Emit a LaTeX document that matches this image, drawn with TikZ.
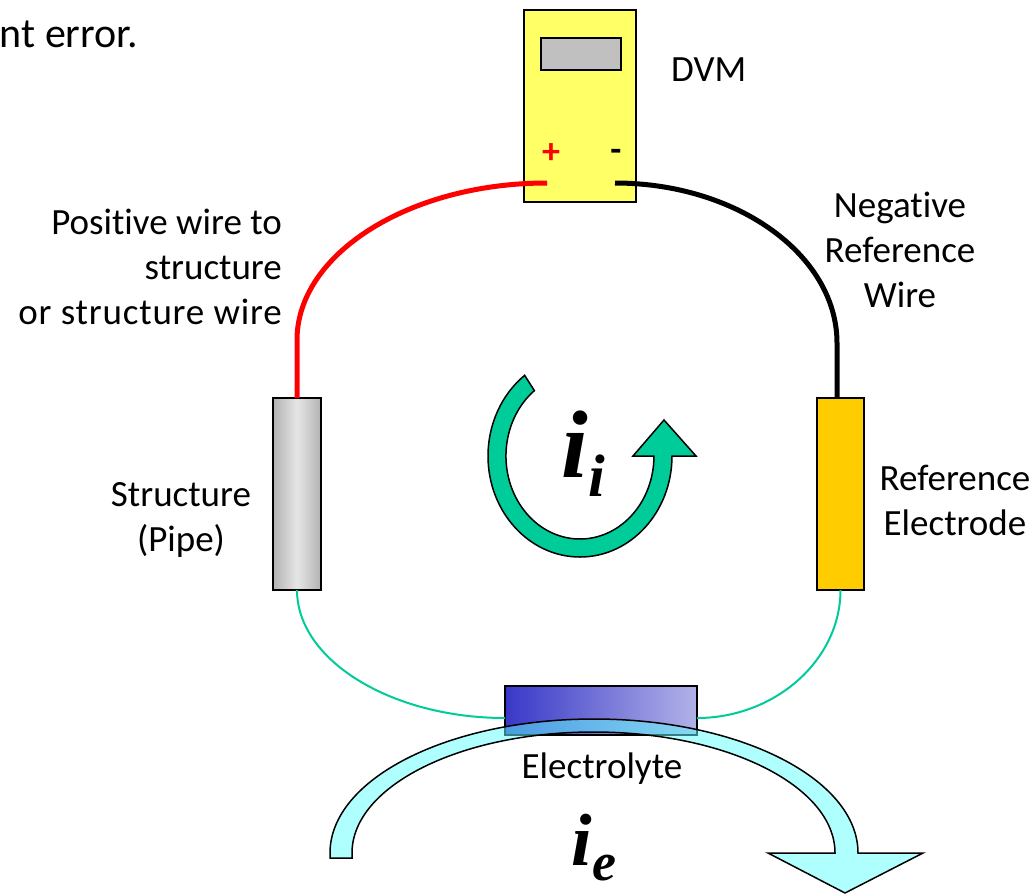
\documentclass[tikz,border=0pt]{standalone}
\usepackage{fontspec}
\setmainfont{Carlito}[Ligatures=NoCommon]
\newfontfamily\currentfont{Liberation Serif}
\usepackage{xcolor}
\definecolor{meter}{RGB}{255,255,102}
\definecolor{screen}{RGB}{192,192,192}
\definecolor{loop}{RGB}{0,204,153}
\definecolor{electrode}{RGB}{255,204,0}
\definecolor{earth}{RGB}{95,255,255}
\definecolor{elecdark}{RGB}{56,56,200}
\definecolor{eleclight}{RGB}{178,178,232}
\usepackage{tikz}
\usetikzlibrary{positioning}
\tikzset{part/.style={draw=black,line width=1.5pt,inner sep=0pt,outer sep=0pt},
  wire/.style={line width=5pt},
  thinwire/.style={draw=loop,line width=2pt}}
\newcommand{\bigsub}[5]{\currentfont\bfseries\itshape{\fontsize{#1}{#1}\selectfont #2}\raisebox{#5}{\fontsize{#3}{#3}\selectfont #4}}
\begin{document}
\begin{tikzpicture}[x=1pt,y=-1pt,every node/.style={font=\fontsize{37}{45}\selectfont,inner sep=0pt}]
\useasboundingbox (0,0) rectangle (1036,895);
\node (err) [anchor=base east,font=\fontsize{42}{45}\selectfont] at (138,47) {nt error.};
\node (dvm) [part,fill=meter,minimum width=112pt,minimum height=192pt] at (580,106) {};
\node (screen) [part,fill=screen,minimum width=80pt,minimum height=32pt] at (581,54) {};
\node (dvmlabel) [anchor=base west] at (671,81) {DVM};
\node (plus) [text=red,font=\fontsize{36}{36}\selectfont\bfseries] at (551,154) {+};
\node (minus) [font=\fontsize{36}{36}\selectfont\bfseries] at (616,155) {-};
\coordinate (redend) at (547,183);
\coordinate (blackend) at (615,183);
\coordinate (redbend) at (297,340);
\coordinate (blackbend) at (837,343);
\node (pipe) [part,left color=gray!60,right color=gray!60,middle color=gray!20,minimum width=48pt,minimum height=192pt] at (297,494) {};
\node (refel) [part,fill=electrode,minimum width=47pt,minimum height=192pt] at (840.5,494) {};
\node (elec) [part,left color=elecdark,right color=eleclight,minimum width=192pt,minimum height=49pt] at (601,710.5) {};
\coordinate (elecleft) at (505,718);
\coordinate (elecright) at (697,718);
\draw[wire,red] (redend) to[out=180,in=90,out distance=138pt,in distance=86pt] (redbend) -- (pipe.north);
\draw[wire,black] (blackend) to[out=0,in=90,out distance=122pt,in distance=88pt] (blackbend) -- (blackbend |- refel.north);
\draw[thinwire] (pipe.south) to[out=-90,in=180,out distance=70pt,in distance=114pt] (elecleft);
\draw[thinwire] (refel.south) to[out=-90,in=0,out distance=70pt,in distance=78pt] (elecright);
\node (poswire) [anchor=east,align=right] at (282,267) {Positive wire to\\structure\\\addfontfeature{LetterSpace=2.2}or structure wire};
\node (negwire) [align=center] at (900,250) {Negative\\Reference\\Wire};
\node (pipelabel) [align=center] at (181,520) {Structure\\(Pipe)};
\node (reflabel) [align=center] at (955,500) {Reference\\Electrode};
\draw[line width=1.5pt,fill=loop] (672,456) arc[start angle=0,end angle=-233,x radius=92pt,y radius=101pt]
  -- (534.4,390.6) arc[start angle=128,end angle=360,x radius=74pt,y radius=83pt]
  -- (633,456) -- (664,420) -- (696,456) -- cycle;
\draw[line width=1.5pt,fill=earth,fill opacity=.5] (330,858) -- (330,853) arc[start angle=180,end angle=0,x radius=264pt,y radius=134pt]
  -- (923,853) -- (845,893) -- (768,853) -- (835,853)
  arc[start angle=0,end angle=180,x radius=241.5pt,y radius=121pt] -- (352,858) -- cycle;
\node (eleclabel) at (602,769) {Electrolyte};
\node (ii) [anchor=base] at (583,477) {\bigsub{96}{i}{60}{i}{-19pt}};
\node (ie) [anchor=base] at (594,865) {\bigsub{74}{i}{54}{e}{-15pt}};
\end{tikzpicture}
\end{document}
